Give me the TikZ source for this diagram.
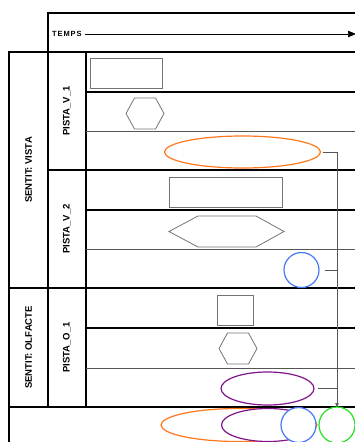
\documentclass[tikz,border=0pt]{standalone}
\usepackage{fontspec}
\setsansfont{Liberation Sans}
\usetikzlibrary{shapes.geometric,arrows.meta}

\definecolor{lineGray}{RGB}{85,85,85}
\definecolor{shapeGray}{RGB}{115,115,115}
\definecolor{evOrange}{RGB}{255,120,30}
\definecolor{evPurple}{RGB}{130,20,140}
\definecolor{evBlue}{RGB}{70,120,245}
\definecolor{evGreen}{RGB}{35,225,35}

\begin{document}
\begin{tikzpicture}[x=1pt, y=-1pt,
    frame/.style={line width=1.4pt, black},
    subline/.style={line width=0.7pt, lineGray},
    box/.style={draw=shapeGray, line width=0.8pt, inner sep=0pt},
    hexa/.style={draw=shapeGray, line width=0.8pt},
    ev/.style={ellipse, line width=1.2pt, fill=white, inner sep=0pt, minimum height=33pt},
    dot/.style={circle, line width=1.2pt, fill=white, inner sep=0pt, minimum size=35pt},
    lane/.style={rotate=90, inner sep=0pt, font=\sffamily\bfseries\fontsize{9.5}{11}\selectfont},
    link/.style={line width=0.6pt, lineGray}]
    \useasboundingbox (0,0) rectangle (355,442);
    \clip (0,0) rectangle (355,442);

    % Time header
    \draw[frame] (48,407) -- (48,13) -- (357,13);
    \node[anchor=west, inner sep=0pt, font=\sffamily\bfseries\fontsize{7.5}{9}\selectfont\addfontfeatures{LetterSpace=12}] (temps) at (52,34) {TEMPS};
    \coordinate (timeEnd) at (356,34);
    \draw[line width=0.6pt, -{Triangle[length=8pt, width=6.5pt]}] ([xshift=3pt]temps.east) -- (timeEnd);

    % Lanes grid
    \draw[frame] (9,443) -- (9,52) -- (357,52);
    \draw[frame] (86,52) -- (86,407);
    \draw[frame] (86,92) -- (357,92);
    \draw[frame] (48,170) -- (357,170);
    \draw[frame] (86,210) -- (357,210);
    \draw[frame] (9,288) -- (357,288);
    \draw[frame] (86,328) -- (357,328);
    \draw[frame] (9,407) -- (357,407);
    \draw[subline] (86,131) -- (357,131);
    \draw[subline] (86,249) -- (357,249);
    \draw[subline] (86,368) -- (357,368);

    % Lane labels
    \node[lane] (sentVista) at (28.5,170) {SENTIT: VISTA};
    \node[lane] (sentOlf) at (28.5,347.5) {SENTIT: OLFACTE};
    \node[lane] (pistaV1) at (67,111) {PISTA\_V\_1};
    \node[lane] (pistaV2) at (67,229) {PISTA\_V\_2};
    \node[lane] (pistaO1) at (67,347.5) {PISTA\_O\_1};

    % Track PISTA_V_1
    \node[box, minimum width=72pt, minimum height=30pt] (recA) at (126,73.5) {};
    \draw[hexa] (126,113.5) -- (134.5,98) -- (155.5,98) -- (164,113.5) -- (155.5,129) -- (134.5,129) -- cycle;
    \node[ev, draw=evOrange, minimum width=156pt, minimum height=32pt] (ovA) at (242.5,152) {};

    % Track PISTA_V_2
    \node[box, minimum width=113pt, minimum height=30pt] (recB) at (225.5,192) {};
    \draw[hexa] (169,231.5) -- (198,216) -- (256,216) -- (284,231.5) -- (256,247) -- (198,247) -- cycle;
    \node[dot, draw=evBlue] (cirB) at (301.5,270) {};

    % Track PISTA_O_1
    \node[box, minimum width=36pt, minimum height=30pt] (recC) at (235,310) {};
    \draw[hexa] (219,348.5) -- (227.5,333) -- (248.5,333) -- (257,348.5) -- (248.5,364) -- (227.5,364) -- cycle;
    \node[ev, draw=evPurple, minimum width=93pt] (ovC) at (267.5,388.5) {};

    % Connectors
    \coordinate (busEnd) at (337,407);
    \draw[link, -{Triangle[length=4pt, width=3.5pt]}] ([xshift=2pt]ovA.east) -| (busEnd);
    \draw[link] ([xshift=5pt]cirB.east) -- (cirB.east -| busEnd);
    \draw[link] ([xshift=3pt]ovC.east) -- (ovC.east -| busEnd);

    % Result lane
    \node[ev, draw=evOrange, minimum width=156pt] (resA) at (239,425) {};
    \node[ev, draw=evPurple, minimum width=93pt] (resC) at (268,425) {};
    \node[dot, draw=evBlue] (resB) at (298.5,425) {};
    \node[dot, draw=evGreen, minimum size=36pt] (resD) at (337,425) {};
\end{tikzpicture}
\end{document}
